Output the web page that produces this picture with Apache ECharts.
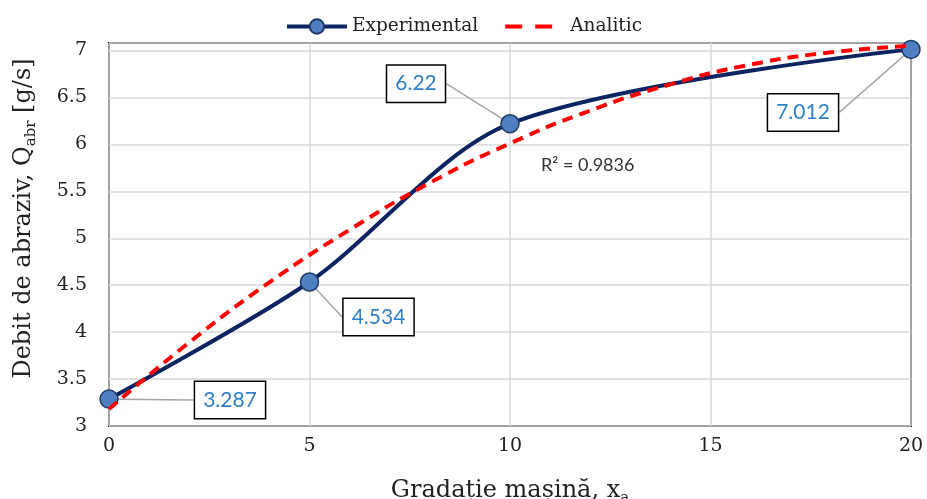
<!DOCTYPE html>
<html>
<head>
<meta charset="utf-8">
<script src="https://cdn.jsdelivr.net/npm/echarts@6/dist/echarts.min.js"></script>
<style>
  html, body { margin: 0; padding: 0; background: #fff; }
  #chart { width: 927px; height: 499px; }
</style>
</head>
<body>
<div id="chart"></div>
<script>
// Measured abrasive flow rate against machine setting
const gradatie = [0, 5, 10, 20];
const debitExp = [3.287, 4.534, 6.22, 7.012];

// Analytic (fitted) curve, sampled along the setting range
const gradatieAn = [0, 2, 4, 6, 8, 10, 12, 14, 16, 18, 20];
const debitAn = [3.18, 3.89, 4.53, 5.09, 5.59, 6.01, 6.36, 6.64, 6.85, 6.98, 7.05];

const yTicks = [3, 3.5, 4, 4.5, 5, 5.5, 6, 6.5, 7];
const xTicks = [0, 5, 10, 15, 20];
const r2Text = 'R² = 0.9836';

const serif = 'DejaVu Serif';
const sans = 'Lato';

// where each value box sits relative to its marker, and how its leader bends
const boxShift = [[121, 1], [69, 35], [-94, -40], [-108, 63]];
const leaderBend = [0, -10, 9, 11];

const chart = echarts.init(document.getElementById('chart'));

const expData = gradatie.map((x, i) => [x, debitExp[i]]);
const anData = gradatieAn.map((x, i) => [x, debitAn[i]]);

chart.setOption({
  animation: false,
  grid: {
    left: 109, right: 16, top: 43, bottom: 73,
    outerBoundsMode: 'none',
    containLabel: false,
    show: true, borderColor: '#000', borderWidth: 2, backgroundColor: 'transparent'
  },
  legend: {
    top: 12,
    left: 'center',
    itemWidth: 60,
    itemHeight: 18,
    itemGap: 25,
    textStyle: { fontFamily: serif, fontSize: 18.5, color: '#222' },
    lineStyle: { width: 4 },
    data: [
      { name: 'Experimental' },
      { name: 'Analitic', itemStyle: { opacity: 0 }, lineStyle: { width: 4, type: [17, 13] } }
    ]
  },
  xAxis: {
    type: 'value',
    min: xTicks[0], max: xTicks[xTicks.length - 1], interval: 5,
    axisLine: { show: false },
    axisTick: { show: false },
    splitLine: { show: true, lineStyle: { color: '#D9D9D9', width: 1.5 } },
    axisLabel: { fontFamily: serif, fontSize: 19, color: '#222', margin: 11 },
    name: '{t|Gradație mașină, x}{s|a}',
    nameLocation: 'middle',
    nameGap: 50,
    nameTextStyle: {
      rich: {
        t: { fontFamily: serif, fontSize: 24, color: '#222' },
        s: { fontFamily: serif, fontSize: 15, color: '#222', padding: [15, 0, 0, 0] }
      }
    }
  },
  yAxis: {
    type: 'value',
    min: yTicks[0], max: 7.08, interval: 0.5,
    axisLine: { show: false },
    axisTick: { show: false },
    splitLine: { show: true, lineStyle: { color: '#D9D9D9', width: 1.5 } },
    axisLabel: {
      fontFamily: serif, fontSize: 19, color: '#222', margin: 22,
      formatter: v => yTicks.some(t => Math.abs(t - v) < 1e-6) ? String(v) : ''
    },
    name: '{t|Debit de abraziv, Q}{s|abr}{t| [g/s]}',
    nameLocation: 'middle',
    nameGap: 70,
    nameTextStyle: {
      padding: [0, 0, 0, 32],
      rich: {
        t: { fontFamily: serif, fontSize: 24, color: '#222' },
        s: { fontFamily: serif, fontSize: 15, color: '#222', padding: [15, 0, 0, 0] }
      }
    }
  },
  series: [
    {
      name: 'Experimental',
      type: 'line',
      data: expData,
      smooth: 0.3,
      symbol: 'circle',
      symbolSize: 18,
      itemStyle: { color: '#4F7EC1', borderColor: '#1F3A68', borderWidth: 1.5 },
      lineStyle: { color: '#0C2462', width: 4 },
      z: 3,
      label: {
        show: true,
        formatter: p => String(p.value[1]),
        fontFamily: sans,
        fontSize: 21,
        color: '#2F80C9',
        backgroundColor: '#fff',
        borderColor: '#000',
        borderWidth: 1.5,
        padding: [7, 8, 5, 8],
        lineHeight: 24
      },
      labelLine: {
        show: true,
        lineStyle: { color: '#A6A6A6', width: 1.5 }
      },
      labelLayout: function (params) {
        const i = params.dataIndex;
        const r = params.rect;
        const ax = r.x + r.width / 2;
        const ay = r.y + r.height / 2;
        const cx = ax + boxShift[i][0];
        const cy = ay + boxShift[i][1];
        const w = params.labelRect.width;
        const side = boxShift[i][0] > 0 ? -1 : 1;
        const ex = cx + side * w / 2;
        const bend = leaderBend[i];
        const pts = bend === 0
          ? [[ax, ay], [(ax + ex) / 2, (ay + cy) / 2], [ex, cy + 1]]
          : [[ax, ay], [ex + bend, cy], [ex, cy]];
        return {
          x: cx, y: cy,
          align: 'center', verticalAlign: 'middle',
          labelLinePoints: pts
        };
      }
    },
    {
      name: 'Analitic',
      type: 'line',
      data: anData,
      smooth: true,
      symbol: 'none',
      lineStyle: { color: '#FF0000', width: 4, type: [11, 7] },
      z: 4
    }
  ],
  graphic: [
    {
      type: 'text',
      left: 541,
      top: 156,
      style: { text: r2Text, fontFamily: sans, fontSize: 18, fill: '#333' }
    }
  ]
});
</script>
</body>
</html>
